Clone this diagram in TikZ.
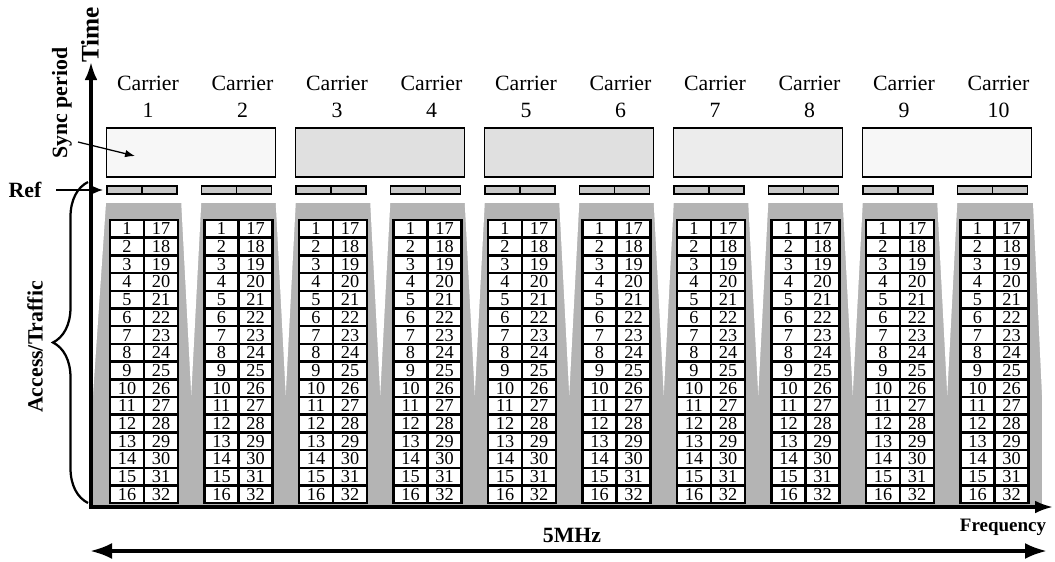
\documentclass[tikz,border=0pt]{standalone}
\usepackage{fontspec}
\setmainfont{Liberation Serif}
\usetikzlibrary{arrows.meta,calc,decorations.pathreplacing,positioning}
\definecolor{bandgray}{HTML}{B4B4B4}
\definecolor{refgray}{HTML}{C8C8C8}
\definecolor{syncdark}{HTML}{E0E0E0}
\definecolor{syncmid}{HTML}{ECECEC}
\definecolor{synclight}{HTML}{F7F7F7}

\begin{document}
\begin{tikzpicture}[x=0.025cm,y=-0.025cm,>=Latex,
  cell/.style={draw,line width=1.7pt,fill=white,minimum width=0.85cm,
    minimum height=0.44cm,inner sep=0pt,font=\fontsize{13}{13}\selectfont},
  refbar/.style={draw,line width=1pt,fill=refgray,minimum width=0.875cm,
    minimum height=0.2cm,inner sep=0pt},
  syncbox/.style={draw,line width=1pt,minimum width=4.225cm,
    minimum height=1.225cm,inner sep=0pt},
  biglabel/.style={font=\bfseries\fontsize{15.5}{18}\selectfont}]
  \fill[white] (0,0) rectangle (1055,561);
  \useasboundingbox (0,0) rectangle (1055,561);

  % Traffic band
  \fill[bandgray] (93,203) rectangle (1042,505);
  \fill[white] (93,203) -- (106,203) -- (93,395) -- cycle;
  \fill[white] (1033,203) -- (1042,203) -- (1042,395) -- cycle;
  \foreach \k in {1,...,9}{
    \pgfmathsetmacro{\mx}{191.25+94.5*(\k-1)}
    \fill[white] (\mx-10,203) -- (\mx+10,203) -- (\mx,395) -- cycle;
  }

  % Sync periods
  \foreach \j/\tone in {1/synclight,2/syncdark,3/syncdark,4/syncmid,5/synclight}{
    \node[syncbox,fill=\tone] (sync\j) at ({191.25+189*(\j-1)},152.5) {};
  }

  % Carriers
  \foreach \k in {1,...,10}{
    \pgfmathsetmacro{\cx}{144+94.5*(\k-1)}
    \node[font=\fontsize{15.5}{19.5}\selectfont,align=center]
      (carrier\k) at (\cx+4,97) {Carrier\\\k};
    \node[refbar] (ref\k-a) at (\cx-19.5,190) {};
    \node[refbar] (ref\k-b) at (\cx+15.5,190) {};
    \foreach \r in {1,...,16}{
      \pgfmathtruncatemacro{\s}{\r+16}
      \node[cell] (slot\k-\r) at (\cx-17,{220+17.7*(\r-0.5)}) {\r};
      \node[cell] (slot\k-\s) at (\cx+17,{220+17.7*(\r-0.5)}) {\s};
    }
  }

  % Axes
  \coordinate (timetop) at (91,62);
  \coordinate (origin) at (91,507);
  \coordinate (freqend) at (1053,507);
  \draw[line width=2.2pt,{Latex[length=0.45cm,width=0.32cm]}-{Latex[length=0.45cm,width=0.32cm]}]
    (timetop) -- (origin) -- (freqend);

  % Labels
  \node[font=\bfseries\fontsize{18}{20}\selectfont,rotate=90] (time) at (90,35) {Time};
  \node[biglabel,rotate=90] (syncperiod) at (62,103) {Sync period};
  \node[biglabel] (reflabel) at (25,190) {Ref};
  \node[biglabel,rotate=90] (access) at (35,347) {Access/Traffic};
  \node[biglabel] (band) at (572,535) {5MHz};
  \node[font=\bfseries\fontsize{13.5}{15}\selectfont] (freq) at (1003,527) {Frequency};

  % Pointers
  \coordinate (syncfrom) at (78,142);
  \coordinate (syncto) at (135,156);
  \draw[->,line width=0.9pt] (syncfrom) -- (syncto);
  \draw[->,line width=0.9pt,shorten <=0.25cm,shorten >=0.08cm]
    (reflabel.east) -- (ref1-a.west);

  % Access brace
  \coordinate (accbot) at (88,503);
  \coordinate (acctop) at (88,182);
  \draw[line width=1.6pt,decorate,decoration={brace,amplitude=0.875cm}]
    (accbot) -- (acctop);

  % Bandwidth
  \coordinate (bandleft) at (90,551);
  \coordinate (bandright) at (1047,551);
  \draw[line width=2.6pt,{Latex[length=0.55cm,width=0.4cm]}-{Latex[length=0.55cm,width=0.4cm]}]
    (bandleft) -- (bandright);
\end{tikzpicture}
\end{document}
